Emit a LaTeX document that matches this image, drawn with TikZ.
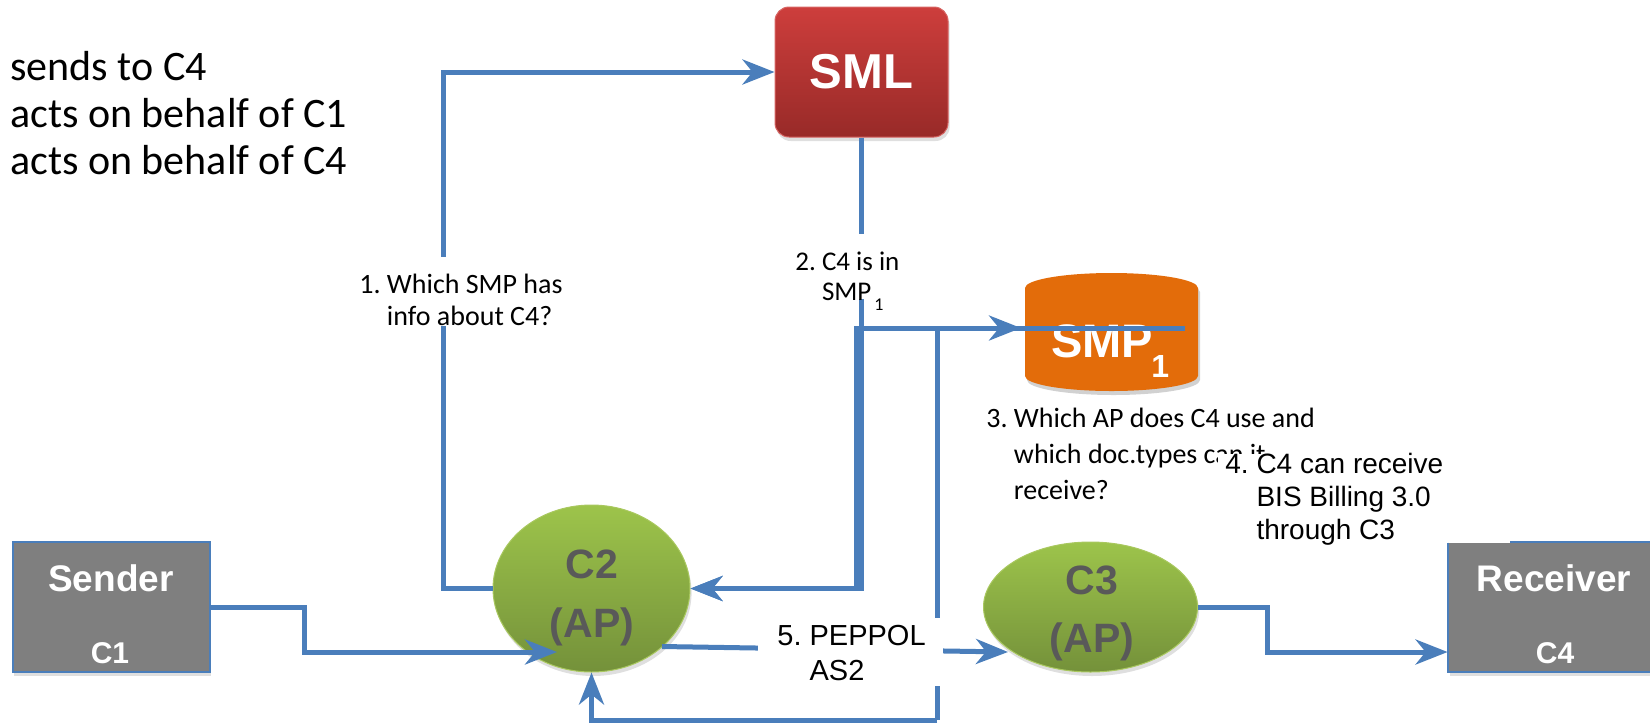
\documentclass[tikz,border=0pt]{standalone}
\usepackage{fontspec}
\setmainfont{Carlito}
\newfontfamily\arialf{Liberation Sans}
\usetikzlibrary{arrows.meta,shapes.geometric,shadows}
\definecolor{lineblue}{HTML}{4A7EBB}
\definecolor{smltop}{HTML}{CD3E3C}
\definecolor{smlbot}{HTML}{982A28}
\definecolor{grtop}{HTML}{9DC44B}
\definecolor{grbot}{HTML}{74913A}
\definecolor{grborder}{HTML}{A9C85F}
\definecolor{boxgray}{HTML}{7F7F7F}
\definecolor{smporange}{HTML}{E36C0A}
\definecolor{aptext}{HTML}{595959}
\begin{document}
\begin{tikzpicture}[x=0.5pt,y=-0.5pt,
  conn/.style={draw=lineblue, line width=2.5pt},
  arr/.style={-{Stealth[length=16pt,width=12.5pt,inset=5pt]}},
  shad/.style={drop shadow={opacity=0.25, shadow xshift=0.8pt, shadow yshift=-2pt}},
  boxtxt/.style={anchor=base, inner sep=0, text=white, font=\arialf\bfseries\fontsize{18.5}{20}\selectfont},
  boxsub/.style={anchor=base, inner sep=0, text=white, font=\arialf\bfseries\fontsize{15}{16}\selectfont},
  aptxt/.style={anchor=base, inner sep=0, text=aptext, font=\arialf\bfseries\fontsize{20.5}{22}\selectfont},
  lbl/.style={anchor=base west, inner sep=0, font=\fontsize{14}{16}\selectfont},
  albl/.style={anchor=base west, inner sep=0, font=\arialf\fontsize{14}{16.5}\selectfont},
  whitebg/.style={fill=white}
]
\useasboundingbox (0,0) rectangle (1650,725);
\clip (0,0) rectangle (1650,725);

% ---- shapes ----
\node[shad, rectangle, rounded corners=7pt, minimum width=86.5pt, minimum height=65pt,
      inner sep=0, top color=smltop, bottom color=smlbot, draw=smltop!80!white, line width=0.5pt,
      text=white, font=\arialf\bfseries\fontsize{24.5}{26}\selectfont] (sml) at (861.5,72) {SML};

% SMP cylinder
\begin{scope}[shift={(2,4)}]
\fill[black, opacity=0.18] (1025,288) -- (1025,376) arc[start angle=180, end angle=360, x radius=43.25pt, y radius=7.5pt] -- (1198,288) arc[start angle=0, end angle=180, x radius=43.25pt, y radius=7.5pt] -- cycle;
\end{scope}
\fill[smporange] (1025,288) -- (1025,376) arc[start angle=180, end angle=360, x radius=43.25pt, y radius=7.5pt] -- (1198,288) arc[start angle=0, end angle=180, x radius=43.25pt, y radius=7.5pt] -- cycle;
\node[anchor=base west, inner sep=0, text=white, font=\arialf\bfseries\fontsize{23.5}{24}\selectfont] (smp) at (1051,357) {SMP};
\node[anchor=base west, inner sep=0, text=white, font=\arialf\bfseries\fontsize{16}{17}\selectfont] (smpsub) at (1151,377) {1};
\coordinate (smpin) at (1021,328);
\coordinate (smpend) at (1185,328);

\node[shad, ellipse, minimum width=98.5pt, minimum height=83.5pt, inner sep=0,
      top color=grtop, bottom color=grbot, draw=grborder, line width=0.5pt] (c2) at (591.5,588.5) {};
\node[aptxt] (c2a) at (592,578) {C2};
\node[aptxt] (c2b) at (592,637) {(AP)};

\node[shad, ellipse, minimum width=107pt, minimum height=65pt, inner sep=0,
      top color=grtop, bottom color=grbot, draw=grborder, line width=0.5pt] (c3) at (1090.5,607) {};
\node[aptxt] (c3a) at (1092,594) {C3};
\node[aptxt] (c3b) at (1092,652) {(AP)};

\node[shad, rectangle, minimum width=98.5pt, minimum height=65pt, inner sep=0,
      fill=boxgray, draw=lineblue, line width=1pt] (sender) at (111,607) {};
\node[boxtxt] (sendert) at (111,591) {Sender};
\node[boxsub] (senderc) at (110,663) {C1};

\node[shad, rectangle, minimum width=107pt, minimum height=64.5pt, inner sep=0,
      fill=boxgray] (receiver) at (1555,607.5) {};
\draw[lineblue, line width=1pt] (receiver.north west) -- (receiver.south west) -- (receiver.south east);
\draw[lineblue, line width=1pt] (1510,542) -- (1650,542);
\node[boxtxt] (receivert) at (1554,591) {Receiver};
\node[boxsub] (receiverc) at (1555,663) {C4};

% ---- connectors ----
\coordinate (l1a) at (443,588.5);
\coordinate (l1b) at (443,72);
\draw[conn, arr] (c2.west) -- (l1a) -- (l1b) -- (sml.west);

\coordinate (smlturn) at (861.5,588.5);
\draw[conn, arr] (sml.south) -- (smlturn) -- (c2.east);

\coordinate (smpa) at (856.5,328);
\coordinate (smpb) at (856.5,588.5);
\draw[conn, arr] (smpend) -- (smpa) -- (smpb) -- (c2.east);

\coordinate (qbot) at (937,720);
\coordinate (qtop) at (937,328);
\draw[conn, arr] (qbot) -- (qtop) -- (smpin);
\draw[conn, arr] (qbot) -- (c2.south |- qbot) -- (c2.south);

\coordinate (s1) at (304,607);
\coordinate (s2) at (304,652);
\coordinate (c2in) at (557,652);
\draw[conn, arr] (sender.east) -- (s1) -- (s2) -- (c2in);

\coordinate (c2out) at (662,646.5);
\coordinate (c3in) at (1008,652);
\draw[conn, arr] (c2out) -- (c3in);

\coordinate (r1) at (1267,607);
\coordinate (r2) at (1267,652);
\draw[conn, arr] (c3.east) -- (r1) -- (r2) -- (receiver.west |- r2);

% ---- labels ----
\node[anchor=base west, inner sep=0, font=\fontsize{21}{23.5}\selectfont] (legend) at (10,80)
  {\begin{tabular}[t]{@{}l@{}}sends to C4\\ acts on behalf of C1\\ acts on behalf of C4\end{tabular}};

\fill[whitebg] (352,257) rectangle (566,326);
\node[lbl] (lab1) at (359,293)
  {\begin{tabular}[t]{@{}l@{\ }l@{}}1.& Which SMP has\\ & info about C4?\end{tabular}};

\fill[whitebg] (790,234) rectangle (900,299);
\node[lbl, font=\fontsize{13.5}{15}\selectfont] (lab2) at (795,270)
  {\begin{tabular}[t]{@{}l@{\ }l@{}}2.& C4 is in\\ & SMP\hspace{1.5pt}\raisebox{-5pt}{\fontsize{9}{9}\selectfont 1}\end{tabular}};

\node[lbl, font=\fontsize{14}{18}\selectfont] (lab3) at (986,427)
  {\begin{tabular}[t]{@{}l@{\ }l@{}}3.& Which AP does C4 use and\\ & which doc.types can it\\ & receive?\end{tabular}};

\fill[whitebg] (1218,454) rectangle (1444,550);
\node[albl] (lab4) at (1225,473)
  {\begin{tabular}[t]{@{}l@{\ }l@{}}4.& C4 can receive\\ & BIS Billing 3.0\\ & through C3\end{tabular}};

\fill[whitebg] (758,618) rectangle (943,686);
\node[albl, font=\arialf\fontsize{14.5}{17.5}\selectfont] (lab5) at (777,645)
  {\begin{tabular}[t]{@{}l@{\ }l@{}}5.& PEPPOL\\ & AS2\end{tabular}};
\end{tikzpicture}
\end{document}
